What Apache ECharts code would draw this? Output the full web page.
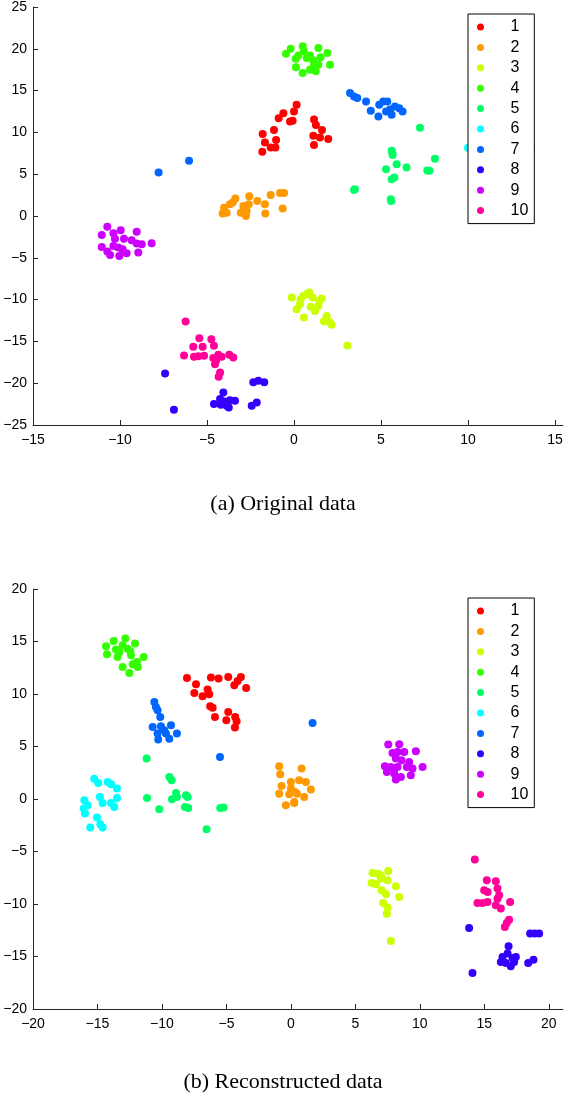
<!DOCTYPE html>
<html>
<head>
<meta charset="utf-8">
<script src="https://cdn.jsdelivr.net/npm/echarts@6/dist/echarts.min.js"></script>
<style>
  html, body { margin: 0; padding: 0; background: #fff; }
  #main { width: 566px; height: 1102px; }
</style>
</head>
<body>
<div id="main"></div>
<script>
// legend names and hsv(10) colours
var names = ['1', '2', '3', '4', '5', '6', '7', '8', '9', '10'];
var colors = ['#ff0000', '#ff9900', '#ccff00', '#33ff00', '#00ff66',
              '#00ffff', '#0066ff', '#3300ff', '#cc00ff', '#ff0099'];

// tick labels
var origXTicks = [-15, -10, -5, 0, 5, 10, 15];
var recXTicks = [-20, -15, -10, -5, 0, 5, 10, 15, 20];

// (a) original data, one array per class
var orig1 = [[0.15, 13.3], [0.0, 12.5], [-0.61, 12.3], [-0.88, 11.7], [-0.23, 11.3], [-0.08, 11.4],
  [-1.15, 10.3], [-1.8, 9.8], [-1.67, 8.8], [-1.03, 9.1], [-1.34, 8.2], [-1.07, 8.2], [-1.82, 7.7],
  [1.15, 11.55], [1.26, 10.9], [1.61, 10.3], [1.11, 9.6], [1.49, 9.4], [1.97, 9.2], [1.15, 8.5]];
var orig2 = [[-4.02, 1.0], [-3.68, 1.4], [-3.37, 2.1], [-4.1, 0.3], [-3.87, 0.4], [-3.06, 0.4],
  [-2.76, 0.0], [-2.6, 1.4], [-2.57, 2.35], [-2.11, 1.8], [-1.67, 1.4], [-1.65, 0.3], [-1.34, 2.5],
  [-0.8, 2.75], [-0.57, 2.75], [-0.65, 0.9], [-2.72, 0.6], [-3.52, 1.6], [-2.91, 1.2]];
var orig3 = [[-0.13, -9.76], [0.15, -11.15], [0.38, -9.96], [0.54, -9.56], [0.57, -12.15], [0.88, -9.16],
  [1.07, -9.76], [0.96, -10.87], [1.21, -11.35], [1.4, -10.75], [1.59, -9.88], [1.46, -10.15],
  [1.88, -11.95], [1.72, -12.6], [2.16, -13.0], [2.07, -12.75], [3.07, -15.5], [0.34, -10.55], [0.73, -9.36]];
var orig4 = [[-0.46, 19.4], [-0.19, 20.0], [0.1, 18.8], [0.5, 20.3], [0.57, 19.7], [0.92, 19.2],
  [1.11, 18.6], [1.4, 20.1], [1.53, 19.0], [1.92, 19.5], [2.07, 18.1], [0.11, 17.8], [0.5, 17.1],
  [0.92, 17.5], [1.25, 17.3], [1.15, 18.0], [0.73, 18.9], [0.25, 19.2], [1.4, 18.1]];
var orig5 = [[7.24, 10.55], [5.61, 7.8], [5.67, 7.3], [5.29, 5.6], [5.9, 6.2], [6.47, 5.8], [5.77, 4.6],
  [5.61, 4.4], [3.45, 3.1], [3.5, 3.2], [5.56, 2.0], [5.58, 1.8], [7.66, 5.45], [7.78, 5.4], [8.1, 6.85], [5.65, 7.6]];
var orig6 = [[10.0, 8.15], [11.2, 9.5], [11.8, 8.6], [12.3, 10.1], [12.6, 7.9], [11.5, 7.2],
  [13.0, 9.0], [12.1, 11.0], [13.4, 10.4], [11.0, 10.6], [12.9, 6.8], [13.6, 8.2]];
var orig7 = [[-7.78, 5.2], [-6.03, 6.6], [3.22, 14.7], [3.45, 14.3], [3.64, 14.1], [4.14, 13.7],
  [4.41, 12.6], [4.85, 11.9], [4.9, 13.3], [5.13, 13.7], [5.36, 13.7], [5.29, 12.5], [5.61, 12.1],
  [5.8, 13.1], [6.05, 12.9], [6.24, 12.5], [5.52, 12.75]];
var orig8 = [[-7.41, -18.84], [-6.9, -23.18], [-4.6, -22.5], [-4.06, -21.1], [-4.25, -21.9], [-3.97, -22.18],
  [-3.68, -22.03], [-3.87, -22.7], [-4.21, -22.58], [-3.75, -22.9], [-3.39, -22.1], [-2.43, -22.7],
  [-2.14, -22.3], [-2.34, -19.9], [-2.05, -19.7], [-1.71, -19.9]];
var orig9 = [[-10.73, -1.28], [-11.05, -2.27], [-10.38, -2.07], [-9.96, -1.71], [-9.04, -1.87], [-10.29, -2.71],
  [-9.77, -2.71], [-11.05, -3.7], [-10.73, -4.26], [-10.57, -4.66], [-10.04, -4.78], [-10.1, -3.78],
  [-9.62, -4.46], [-9.33, -2.9], [-9.04, -3.3], [-8.75, -3.39], [-8.18, -3.26], [-8.95, -4.38],
  [-10.38, -3.58], [-9.85, -3.98]];
var orig10 = [[-6.23, -12.63], [-6.32, -16.69], [-5.79, -15.65], [-5.44, -14.62], [-5.25, -15.65],
  [-5.75, -16.85], [-5.5, -16.77], [-4.75, -14.74], [-4.6, -15.53], [-5.17, -16.73], [-4.64, -17.0],
  [-4.48, -17.32], [-4.35, -16.6], [-4.16, -16.85], [-3.72, -16.6], [-3.49, -16.93], [-4.25, -18.72],
  [-4.33, -19.24], [-4.54, -17.72]];

// (b) reconstructed data
var rec1 = [[-8.06, 11.52], [-7.36, 10.92], [-7.49, 10.1], [-6.85, 9.78], [-6.46, 10.42], [-6.33, 9.97],
  [-6.2, 11.56], [-5.61, 11.47], [-4.86, 11.62], [-4.39, 10.83], [-4.13, 11.24], [-3.88, 11.62],
  [-3.47, 10.57], [-6.07, 8.7], [-5.89, 7.81], [-5.01, 7.5], [-4.86, 8.29], [-4.32, 7.81], [-4.21, 7.4],
  [-4.34, 6.8], [-6.26, 8.83]];
var rec2 = [[-0.91, 3.11], [-0.83, 2.35], [0.83, 2.9], [0.0, 1.62], [0.64, 1.78], [1.16, 1.62], [-0.72, 1.24],
  [0.0, 0.99], [1.55, 0.9], [-0.91, 0.51], [-0.13, 0.45], [0.31, 0.67], [1.03, 0.19], [-0.39, -0.6],
  [0.26, -0.29], [0.47, 0.51], [0.26, -0.38]];
var rec3 = [[6.33, -7.05], [6.72, -7.11], [7.55, -6.86], [6.26, -8.0], [6.59, -8.12], [6.98, -7.58],
  [7.49, -7.74], [8.14, -8.31], [7.04, -8.7], [7.38, -9.08], [8.4, -9.33], [7.16, -9.9], [7.49, -10.34],
  [7.44, -10.92], [7.75, -13.52], [6.98, -7.27]];
var rec4 = [[-14.34, 14.54], [-14.26, 13.78], [-13.75, 15.05], [-13.57, 14.23], [-13.44, 13.52],
  [-13.05, 14.64], [-12.84, 15.28], [-12.66, 14.32], [-12.4, 13.69], [-12.09, 14.8], [-12.46, 14.1],
  [-11.42, 13.52], [-13.05, 12.57], [-12.53, 12.0], [-12.27, 12.83], [-11.88, 12.57], [-11.94, 13.05],
  [-13.31, 14.0]];
var rec5 = [[-11.19, 3.85], [-11.16, 0.1], [-10.21, -0.98], [-9.43, 2.1], [-9.25, 1.78], [-8.91, 0.57],
  [-9.22, -0.03], [-8.14, 0.35], [-8.01, 0.19], [-8.22, -0.76], [-7.96, -0.86], [-5.48, -0.86],
  [-5.22, -0.82], [-6.54, -2.89], [-8.84, 0.19]];
var rec6 = [[-15.25, 1.94], [-14.94, 1.52], [-14.21, 1.62], [-13.95, 1.4], [-13.49, 0.99], [-13.49, 0.1],
  [-14.81, 0.19], [-14.6, -0.38], [-13.95, -0.38], [-13.7, -0.76], [-16.02, -0.12], [-15.76, -0.6],
  [-15.97, -1.39], [-15.04, -1.77], [-14.78, -2.41], [-14.6, -2.72], [-15.56, -2.72], [-16.07, -0.91]];
var rec7 = [[-10.59, 9.24], [-10.47, 8.76], [-10.34, 8.45], [-10.13, 7.81], [-10.72, 6.86], [-10.08, 6.92],
  [-9.3, 7.02], [-10.34, 6.23], [-9.69, 6.23], [-9.43, 5.75], [-8.84, 6.23], [-10.29, 5.66], [-9.82, 6.54],
  [1.68, 7.24], [-5.5, 4.0]];
var rec8 = [[13.82, -12.29], [14.08, -16.57], [16.88, -14.03], [16.8, -14.72], [16.41, -15.05],
  [17.19, -15.14], [17.44, -15.05], [16.28, -15.52], [16.67, -15.62], [17.05, -15.93], [17.31, -15.52],
  [18.4, -15.62], [18.81, -15.3], [18.55, -12.82], [18.91, -12.82], [19.25, -12.82]];
var rec9 = [[7.55, 5.18], [8.4, 5.21], [7.88, 4.38], [8.27, 4.48], [8.79, 4.48], [9.69, 4.54], [8.14, 3.85],
  [8.58, 3.69], [9.17, 3.52], [7.29, 3.11], [7.75, 3.05], [8.27, 3.05], [8.99, 3.05], [9.43, 2.9],
  [10.21, 3.05], [7.44, 2.57], [8.01, 2.42], [8.53, 2.1], [9.3, 2.26], [8.14, 1.85]];
var rec10 = [[14.26, -5.77], [15.19, -7.74], [15.89, -7.84], [14.99, -8.7], [15.25, -8.86], [16.02, -8.53],
  [16.15, -9.17], [14.47, -9.9], [14.86, -9.9], [15.25, -9.81], [15.89, -10.12], [16.28, -10.44],
  [16.02, -9.49], [17.0, -9.81], [16.92, -11.49], [16.74, -11.81], [16.59, -12.19]];

var origSets = [orig1, orig2, orig3, orig4, orig5, orig6, orig7, orig8, orig9, orig10];
var recSets = [rec1, rec2, rec3, rec4, rec5, rec6, rec7, rec8, rec9, rec10];

var font = 'Liberation Sans, Arial, sans-serif';
var axisColor = '#262626';

function minusFmt(v) {
    return v < 0 ? '\u2212' + Math.abs(v) : String(v);
}

function xAxisFor(idx, min, max, ticks) {
    return {
        type: 'value', gridIndex: idx, min: min, max: max,
        axisLine: { onZero: false, lineStyle: { color: axisColor, width: 1 } },
        axisTick: { inside: true, length: 5, customValues: ticks, lineStyle: { color: axisColor } },
        axisLabel: { customValues: ticks, formatter: minusFmt, color: '#000', fontSize: 14, fontFamily: font, margin: 8 },
        splitLine: { show: false }
    };
}

function yAxisFor(idx, min, max) {
    return {
        type: 'value', gridIndex: idx, min: min, max: max, interval: 5,
        axisLine: { show: true, onZero: false, lineStyle: { color: axisColor, width: 1 } },
        axisTick: { show: true, inside: true, length: 5, lineStyle: { color: axisColor } },
        axisLabel: { formatter: minusFmt, color: '#000', fontSize: 14, fontFamily: font, margin: 6 },
        splitLine: { show: false }
    };
}

function legendAt(top) {
    return {
        orient: 'vertical', left: 468, top: top,
        backgroundColor: '#fff', borderColor: '#000', borderWidth: 1, borderRadius: 0,
        padding: [5, 6, 5, 9],
        itemWidth: 50, itemHeight: 7, itemGap: 4.4,
        icon: 'circle', selectedMode: false,
        textStyle: { fontSize: 16, lineHeight: 16, color: '#000', fontFamily: font },
        data: names
    };
}

var series = [];
origSets.forEach(function (d, i) {
    series.push({
        name: names[i], type: 'scatter', xAxisIndex: 0, yAxisIndex: 0,
        symbolSize: 8, itemStyle: { color: colors[i], opacity: 1 }, data: d
    });
});
recSets.forEach(function (d, i) {
    series.push({
        name: names[i], type: 'scatter', xAxisIndex: 1, yAxisIndex: 1,
        symbolSize: 8, itemStyle: { color: colors[i], opacity: 1 }, data: d
    });
});

var chart = echarts.init(document.getElementById('main'), null, { renderer: 'canvas' });

chart.setOption({
    backgroundColor: '#fff',
    animation: false,
    color: colors,
    title: [{
        text: '(a) Original data', left: 'center', top: 493, padding: 0,
        textStyle: { fontFamily: 'Liberation Serif, Times New Roman, serif', fontSize: 22, fontWeight: 'normal', color: '#000' }
    }, {
        text: '(b) Reconstructed data', left: 'center', top: 1071, padding: 0,
        textStyle: { fontFamily: 'Liberation Serif, Times New Roman, serif', fontSize: 22, fontWeight: 'normal', color: '#000' }
    }],
    grid: [
        { left: 33, top: 6, width: 530, height: 419, containLabel: false },
        { left: 33, top: 589, width: 530, height: 420, containLabel: false }
    ],
    xAxis: [xAxisFor(0, -15, 15.46, origXTicks), xAxisFor(1, -20, 21.1, recXTicks)],
    yAxis: [yAxisFor(0, -25, 25), yAxisFor(1, -20, 20)],
    legend: [legendAt(14), legendAt(598)],
    series: series
});
</script>
</body>
</html>
